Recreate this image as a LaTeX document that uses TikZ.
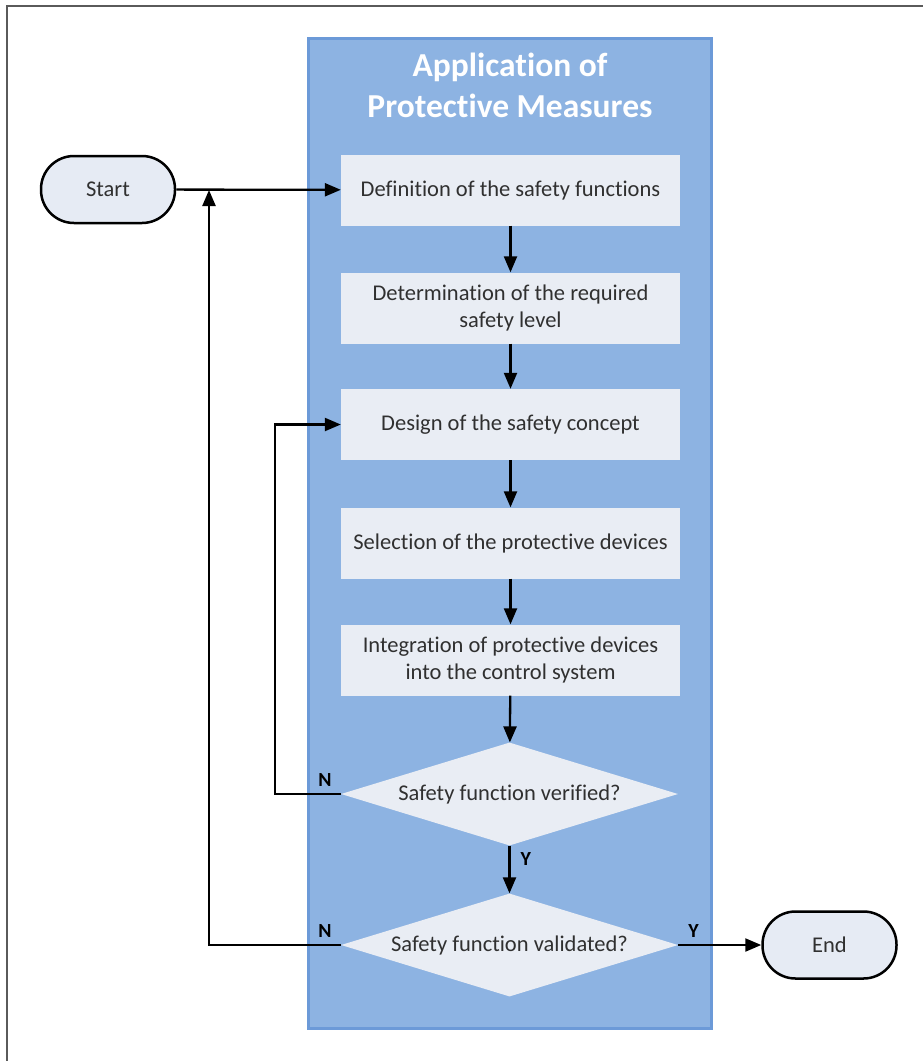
\documentclass[tikz,border=0pt]{standalone}
\usepackage{fontspec}
\setmainfont{Carlito}[Ligatures={NoCommon}]
\usetikzlibrary{arrows.meta,shapes.geometric}
\definecolor{panelfill}{HTML}{8DB3E2}
\definecolor{paneledge}{HTML}{6C9AD8}
\definecolor{boxfill}{HTML}{E9EDF4}
\definecolor{termfill}{HTML}{E6EBF4}
\definecolor{txt}{HTML}{303030}
\definecolor{frame}{HTML}{5A5A5A}
\begin{document}
\begin{tikzpicture}[x=1pt,y=-1pt,
  panel/.style={rectangle, fill=panelfill, draw=paneledge, line width=3pt, minimum width=403pt, minimum height=990pt, inner sep=0pt},
  title/.style={text=white, font=\fontsize{33.5}{41}\selectfont\bfseries, align=center, inner sep=0pt},
  stepbox/.style={rectangle, fill=boxfill, minimum width=339pt, minimum height=71pt, inner sep=0pt, text=txt, font=\fontsize{22.5}{27}\selectfont, align=center},
  decision/.style={diamond, fill=boxfill, minimum width=337pt, minimum height=103pt, inner sep=0pt},
  dectext/.style={text=txt, font=\fontsize{22.5}{27}\selectfont, inner sep=0pt},
  term/.style={rectangle, rounded corners=33pt, fill=termfill, draw=black, line width=2.5pt, minimum width=134pt, minimum height=67pt, inner sep=0pt, text=txt, font=\fontsize{22.5}{27}\selectfont},
  arr/.style={line width=2.3pt, -{Triangle[length=16pt,width=13pt]}},
  lbl/.style={font=\fontsize{20}{22}\selectfont\bfseries, text=black, inner sep=0pt}
]
\useasboundingbox (0,0) rectangle (923,1061);
\draw[frame, line width=1.5pt] (7,1061) -- (7,6) -- (923,6);

\node[panel] (panel) at (510,533.5) {};
\node[title] (title) at (510,85.5) {Application of\\Protective Measures};

\node[stepbox] (b1) at (510.5,190) {Definition of the safety functions};
\node[stepbox] (b2) at (510.5,308) {Determination of the required\\safety level};
\node[stepbox] (b3) at (510.5,424.5) {Design of the safety concept};
\node[stepbox] (b4) at (510.5,543) {Selection of the protective devices};
\node[stepbox] (b5) at (510.5,660) {Integration of protective devices\\into the control system};

\node[decision, label={[dectext]center:Safety function verified?}] (d1) at (509.5,794) {};
\node[decision, label={[dectext]center:Safety function validated?}] (d2) at (509.5,945) {};

\node[term] (start) at (108,189.5) {Start};
\node[term] (end) at (829.5,945) {End};

\coordinate (j) at (209,190);

\draw[arr] (start) -- (b1);
\draw[arr] (b1) -- (b2);
\draw[arr] (b2) -- (b3);
\draw[arr] (b3) -- (b4);
\draw[arr] (b4) -- (b5);
\draw[arr] (b5) -- (d1);
\draw[arr] (d1) -- node[lbl, anchor=west, pos=0.27, xshift=10pt] {Y} (d2);
\draw[arr] (d2) -- (end);
\node[lbl, anchor=south west, xshift=10pt, yshift=7pt] at (d2.east) {Y};

\draw[arr] (d1.west) -- ++(-66,0) |- (b3.west);
\node[lbl, anchor=south east, xshift=-9pt, yshift=7pt] at (d1.west) {N};

\draw[arr] (d2.west) -| (j);
\node[lbl, anchor=south east, xshift=-9pt, yshift=7pt] at (d2.west) {N};
\end{tikzpicture}
\end{document}
